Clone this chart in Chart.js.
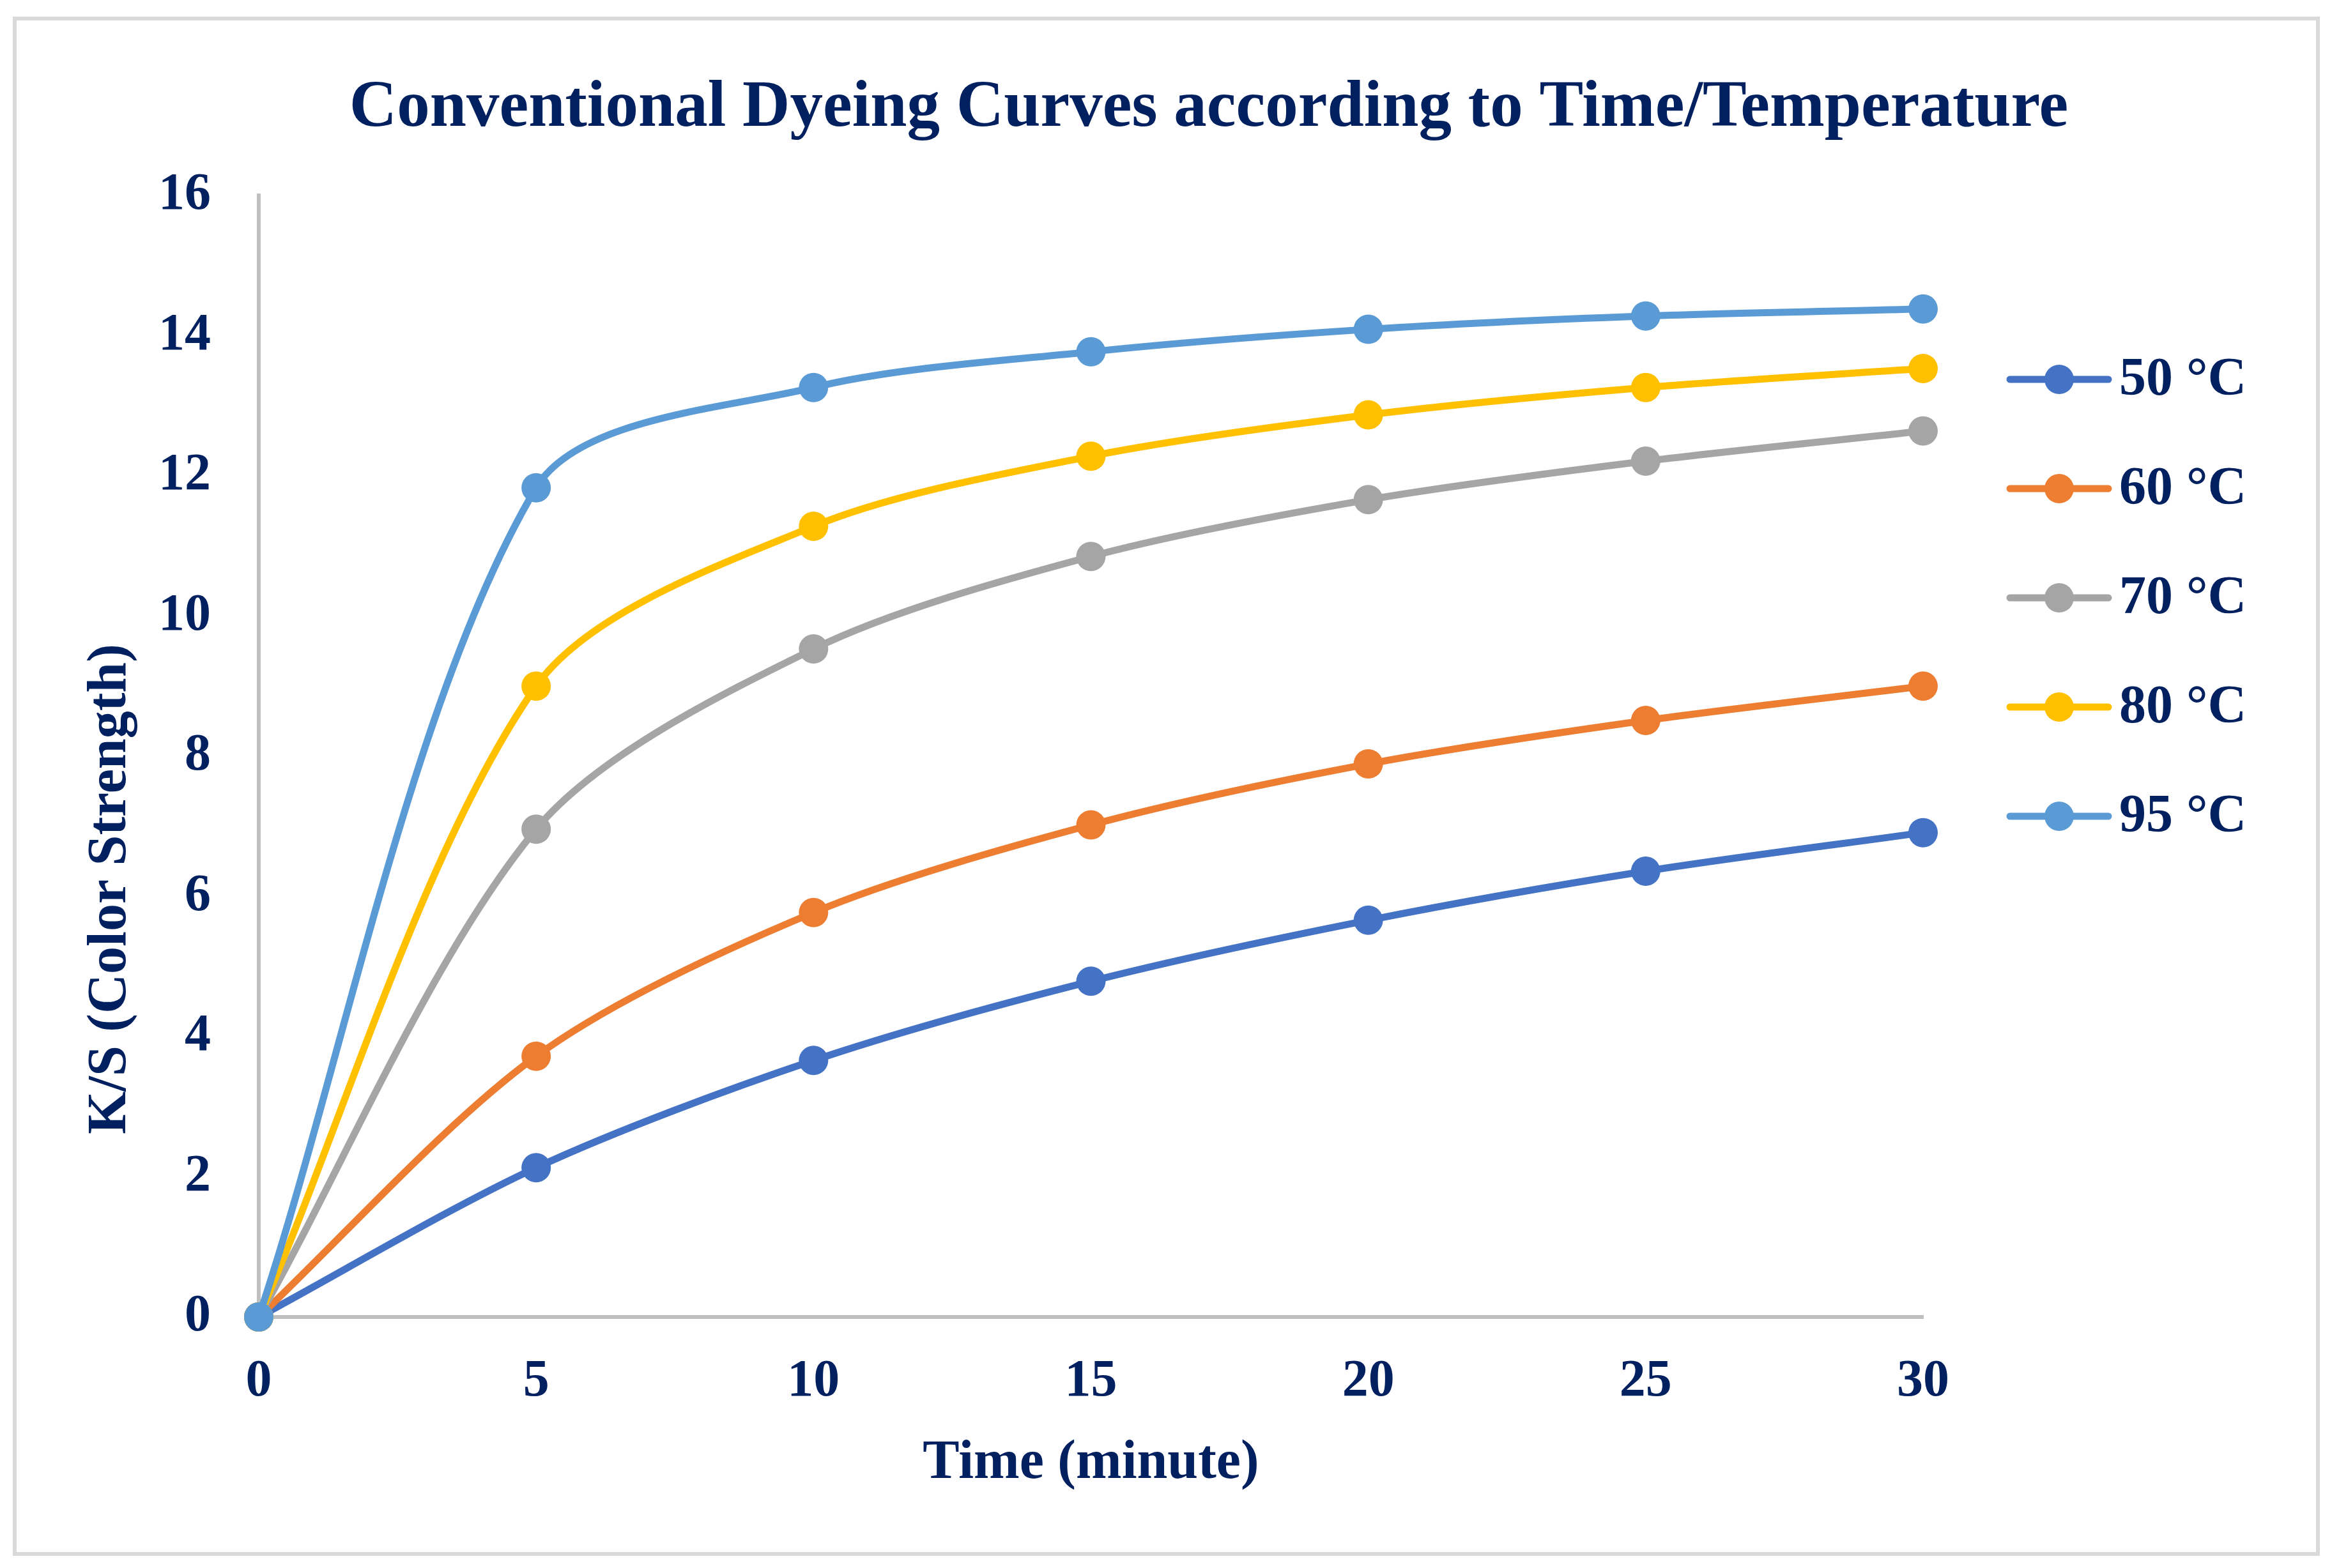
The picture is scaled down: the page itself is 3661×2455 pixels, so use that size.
<!DOCTYPE html>
<html>
<head>
<meta charset="utf-8">
<script src="https://cdn.jsdelivr.net/npm/chart.js@4.4.0/dist/chart.umd.min.js"></script>
<style>
  html, body { margin: 0; padding: 0; background: #fff; }
  canvas { display: block; }
</style>
</head>
<body>
<canvas id="myChart" width="3661" height="2455"></canvas>
<script>
// data
const times = [0, 5, 10, 15, 20, 25, 30]
const seriesNames = ['50 °C', '60 °C', '70 °C', '80 °C', '95 °C']
const ks50 = [0, 2.13, 3.66, 4.79, 5.66, 6.36, 6.91]
const ks60 = [0, 3.72, 5.77, 7.02, 7.89, 8.51, 9.0]
const ks70 = [0, 6.96, 9.53, 10.85, 11.66, 12.21, 12.64]
const ks80 = [0, 9.0, 11.28, 12.28, 12.87, 13.26, 13.53]
const ks95 = [0, 11.83, 13.26, 13.77, 14.09, 14.28, 14.38]
const yTicks = [0, 2, 4, 6, 8, 10, 12, 14, 16]

const TITLE = 'Conventional Dyeing Curves according to Time/Temperature'
const X_TITLE = 'Time (minute)'
const Y_TITLE = 'K/S (Color Strength)'

const NAVY = '#002060'
const FONT = '"Liberation Serif", "Times New Roman", serif'
const colors = ['#4472C4', '#ED7D31', '#A5A5A5', '#FFC000', '#5B9BD5']
const allSeries = [ks50, ks60, ks70, ks80, ks95]

const datasets = allSeries.map((vals, i) => ({
  label: seriesNames[i],
  data: times.map((t, j) => ({ x: t, y: vals[j] })),
  borderColor: colors[i],
  backgroundColor: colors[i],
  borderWidth: 11,
  pointRadius: 23,
  pointHoverRadius: 23,
  pointBorderWidth: 0,
  tension: 0.3,
  clip: false,
  order: allSeries.length - 1 - i
}))

// title, y-axis title, legend and the chart frame
const decorations = {
  id: 'decorations',
  afterDraw(chart) {
    const { ctx } = chart
    ctx.save()
    // outer frame
    ctx.strokeStyle = '#D9D9D9'
    ctx.lineWidth = 6
    ctx.strokeRect(23, 29, 3605, 2404)

    ctx.fillStyle = NAVY
    ctx.textBaseline = 'middle'

    // chart title
    ctx.font = `bold 103px ${FONT}`
    ctx.textAlign = 'center'
    ctx.fillText(TITLE, 1892, 170)

    // y axis title
    ctx.save()
    ctx.translate(174, 1392)
    ctx.rotate(-Math.PI / 2)
    ctx.font = `bold 86px ${FONT}`
    ctx.fillText(Y_TITLE, 0, 0)
    ctx.restore()

    // legend
    ctx.font = `bold 84px ${FONT}`
    ctx.textAlign = 'left'
    chart.data.datasets.forEach((ds, i) => {
      const y = 594 + i * 171
      ctx.strokeStyle = ds.borderColor
      ctx.lineWidth = 11
      ctx.lineCap = 'round'
      ctx.beginPath()
      ctx.moveTo(3146, y)
      ctx.lineTo(3300, y)
      ctx.stroke()
      ctx.fillStyle = ds.backgroundColor
      ctx.beginPath()
      ctx.arc(3223, y, 23, 0, Math.PI * 2)
      ctx.fill()
      ctx.fillStyle = NAVY
      ctx.fillText(ds.label, 3317, y + 2)
    })
    ctx.restore()
  }
}

const canvas = document.getElementById('myChart')
const chart = new Chart(canvas.getContext('2d'), {
  type: 'line',
  data: { datasets },
  options: {
    responsive: false,
    animation: false,
    devicePixelRatio: 1,
    layout: { padding: { top: 306, right: 651, bottom: 0, left: 0 } },
    plugins: {
      legend: { display: false },
      title: { display: false },
      tooltip: { enabled: false }
    },
    scales: {
      x: {
        type: 'linear',
        min: 0,
        max: 30,
        afterBuildTicks: (scale) => { scale.ticks = times.map(v => ({ value: v })) },
        afterFit: (scale) => { scale.height = 393 },
        grid: { display: false, drawTicks: false },
        border: { display: true, color: '#BFBFBF', width: 6 },
        ticks: {
          padding: 53,
          color: NAVY,
          font: { family: FONT, size: 82, weight: 'bold' }
        },
        title: {
          display: true,
          text: X_TITLE,
          color: NAVY,
          font: { family: FONT, size: 86, weight: 'bold' },
          padding: { top: 0, bottom: 112 }
        }
      },
      y: {
        min: 0,
        max: 16,
        afterBuildTicks: (scale) => { scale.ticks = yTicks.map(v => ({ value: v })) },
        afterFit: (scale) => { scale.width = 405 },
        grid: { display: false, drawTicks: false },
        border: { display: true, color: '#BFBFBF', width: 6 },
        ticks: {
          padding: 75,
          color: NAVY,
          font: { family: FONT, size: 82, weight: 'bold' }
        }
      }
    }
  },
  plugins: [decorations]
})
</script>
</body>
</html>
